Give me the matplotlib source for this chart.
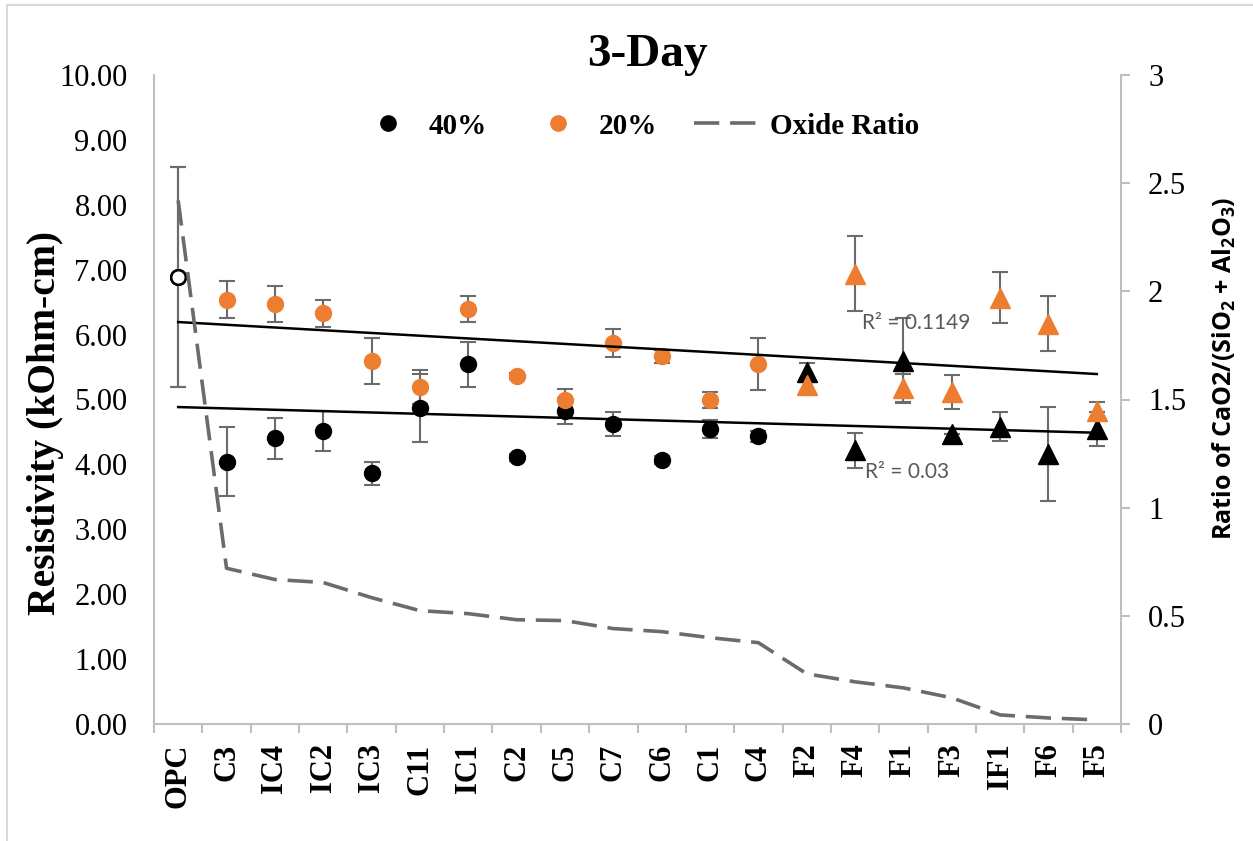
import numpy as np
import matplotlib
matplotlib.use("Agg")
import matplotlib.pyplot as plt
from matplotlib.lines import Line2D

# Mix designs, ordered by decreasing oxide ratio
categories = ["OPC", "C3", "IC4", "IC2", "IC3", "C11", "IC1", "C2", "C5", "C7",
              "C6", "C1", "C4", "F2", "F4", "F1", "F3", "IF1", "F6", "F5"]

# 3-day resistivity (kOhm-cm), 40 % replacement
res_40 = [6.89, 4.04, 4.40, 4.52, 3.86, 4.87, 5.54, 4.11, 4.82, 4.62,
          4.07, 4.54, 4.43, 5.42, 4.22, 5.60, 4.47, 4.58, 4.16, 4.55]
err_40 = [1.69, 0.53, 0.31, 0.31, 0.17, 0.52, 0.35, 0.05, 0.20, 0.19,
          0.06, 0.14, 0.08, 0.15, 0.27, 0.65, 0.00, 0.22, 0.72, 0.26]

# 3-day resistivity (kOhm-cm), 20 % replacement
res_20 = [6.89, 6.54, 6.47, 6.33, 5.59, 5.19, 6.40, 5.36, 4.99, 5.87,
          5.67, 4.99, 5.54, 5.23, 6.94, 5.18, 5.12, 6.57, 6.17, 4.82]
err_20 = [1.69, 0.29, 0.28, 0.21, 0.35, 0.26, 0.20, 0.05, 0.17, 0.22,
          0.10, 0.12, 0.40, 0.10, 0.58, 0.22, 0.26, 0.39, 0.43, 0.14]

# CaO/(SiO2 + Al2O3) of each binder
oxide_ratio = [2.42, 0.72, 0.668, 0.654, 0.584, 0.524, 0.510, 0.482, 0.478, 0.441,
               0.427, 0.399, 0.376, 0.232, 0.195, 0.167, 0.121, 0.042, 0.028, 0.019]

r2_labels = ["R\u00b2 = 0.1149", "R\u00b2 = 0.03"]

SERIF = "Liberation Serif"
SANS = "Lato"
LABEL_SANS = "Open Sans"
ORANGE = "#ED7D31"
GRID_GREY = "#BFBFBF"
BAR_GREY = "#6B6B6B"

plt.rcParams["mathtext.default"] = "regular"

W, H = 1253, 841
fig = plt.figure(figsize=(W / 100, H / 100), dpi=100)
x0, x1, y0, y1 = 154, 1121, 75, 724
ax = fig.add_axes([x0 / W, 1 - y1 / H, (x1 - x0) / W, (y1 - y0) / H])
ax2 = ax.twinx()

x = np.arange(len(categories))
is_ref = np.array([c == "OPC" for c in categories])
is_fly = np.array(["F" in c for c in categories])
is_circ = ~is_ref & ~is_fly

series = [(np.array(res_40), np.array(err_40), "black"),
          (np.array(res_20), np.array(err_20), ORANGE)]

for vals, errs, color in series:
    ax.errorbar(x, vals, yerr=errs, fmt="none", ecolor=BAR_GREY, elinewidth=1.5,
                capsize=5.5, capthick=1.5, zorder=2)
for vals, errs, color in series:
    ax.plot(x[is_circ], vals[is_circ], "o", color=color, ms=11.5, ls="none", zorder=3)
    ax.plot(x[is_fly], vals[is_fly], "^", color=color, ms=15, ls="none", zorder=3)
    ax.plot(x[is_ref], vals[is_ref], "o", mfc="white", mec="black", mew=1.8,
            ms=10.5, ls="none", zorder=4)

# Linear trendlines of each series
for vals, errs, color in series:
    coef = np.polyfit(x, vals, 1)
    ends = np.array([x[0], x[-1]])
    ax.plot(ends, np.polyval(coef, ends), color="black", lw=1.8, zorder=5)

ax.text(14.15, 6.18, r2_labels[0], family=SANS, fontsize=15, color="#595959",
        ha="left", va="center", zorder=6)
ax.text(14.21, 3.89, r2_labels[1], family=SANS, fontsize=15, color="#595959",
        ha="left", va="center", zorder=6)

# Oxide ratio on the secondary axis
ax2.plot(x, oxide_ratio, color=BAR_GREY, lw=2.6, dashes=(7, 3), zorder=3)

# Primary axis
ax.set_xlim(-0.5, len(categories) - 0.5)
ax.set_ylim(0, 10)
ax.set_yticks(np.arange(0, 11, 1))
ax.set_yticklabels([f"{v:.2f}" for v in np.arange(0, 11, 1)],
                   family=SERIF, fontsize=22)
ax.tick_params(axis="y", length=0, pad=19)
ax.set_xticks(x)
ax.set_xticklabels(categories, rotation=90, family=SERIF, fontsize=22,
                   fontweight="bold", va="top", ha="center")
ax.set_xticks(np.arange(-0.5, len(categories), 1), minor=True)
ax.tick_params(axis="x", which="major", length=0, pad=14)
ax.tick_params(axis="x", which="minor", length=6.5, width=1.5, color=GRID_GREY,
               direction="out")
for side in ("top", "right"):
    ax.spines[side].set_visible(False)
for side in ("left", "bottom"):
    ax.spines[side].set_color(GRID_GREY)
    ax.spines[side].set_linewidth(1.5)

# Secondary axis
ax2.set_ylim(0, 3)
ticks2 = [0, 0.5, 1, 1.5, 2, 2.5, 3]
ax2.set_yticks(ticks2)
ax2.set_yticklabels([f"{t:g}" for t in ticks2], family=SERIF, fontsize=22)
ax2.tick_params(axis="y", direction="out", length=6.5, width=1.5,
                color=GRID_GREY, pad=13)
for side in ("top", "left", "bottom"):
    ax2.spines[side].set_visible(False)
ax2.spines["right"].set_color(GRID_GREY)
ax2.spines["right"].set_linewidth(1.5)

# Titles and axis labels
fig.text(647 / W, 1 - 66 / H, "3-Day", family=SERIF, fontsize=34,
         fontweight="bold", ha="center", va="baseline")
fig.text(46 / W, 1 - 423 / H, "Resistivity (kOhm-cm)", family=SERIF,
         fontsize=28.5, fontweight="bold", rotation=90, ha="center", va="center")
fig.text(1224 / W, 1 - 368 / H, "Ratio of CaO2/(SiO$_2$ + Al$_2$O$_3$)",
         family=LABEL_SANS, fontsize=18, fontweight="bold", rotation=90,
         ha="center", va="center")

# Legend
handles = [
    Line2D([], [], marker="o", color="black", ls="none", ms=11),
    Line2D([], [], marker="o", color=ORANGE, ls="none", ms=11),
    Line2D([], [], color=BAR_GREY, lw=2.6, dashes=(7, 3)),
]
fig.legend(handles, ["40%", "20%", "Oxide Ratio"], loc="center",
           bbox_to_anchor=(636 / W, 1 - 126 / H), ncol=3, frameon=False,
           prop={"family": SERIF, "size": 21, "weight": "bold"},
           handlelength=2.4, handletextpad=0.2, columnspacing=1.25,
           borderpad=0, borderaxespad=0)

# Chart-area border
fig.add_artist(Line2D([7 / W, 7 / W], [0, 1 - 5 / H], color="#D9D9D9", lw=1.5))
fig.add_artist(Line2D([7 / W, 1], [1 - 5 / H, 1 - 5 / H], color="#D9D9D9", lw=1.5))

fig.savefig("out.png", dpi=100)
